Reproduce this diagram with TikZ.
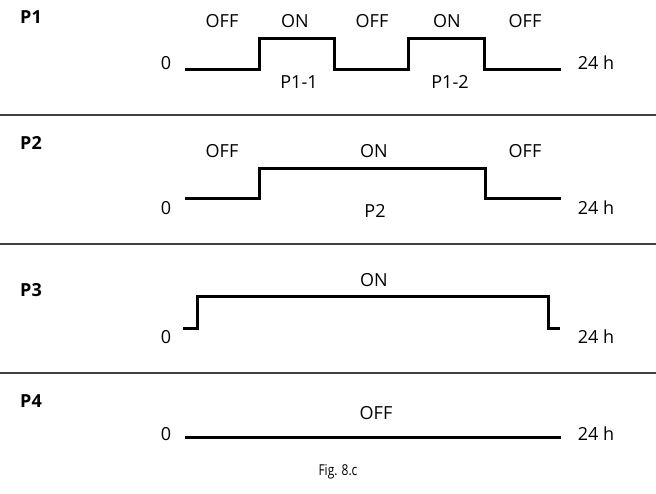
\documentclass[tikz,border=0pt]{standalone}
\usepackage{fontspec}
\setmainfont{Open Sans}
\begin{document}
\begin{tikzpicture}[x=1pt,y=-1pt,
  lbl/.style={font=\fontsize{18}{21}\selectfont,inner sep=0pt},
  plbl/.style={font=\fontsize{18}{21}\selectfont\bfseries,inner sep=0pt},
  wave/.style={line width=3pt,line join=miter},
  divider/.style={line width=1.6pt,draw=black!75}]
\useasboundingbox (0,0) rectangle (656,493);
% P1
\node[plbl] (p1) at (31,17) {P1};
\node[lbl] (p1off1) at (222,21) {OFF};
\node[lbl] (p1on1) at (295,21) {ON};
\node[lbl] (p1off2) at (372,21) {OFF};
\node[lbl] (p1on2) at (447,21) {ON};
\node[lbl] (p1off3) at (525,21) {OFF};
\node[lbl] (p1zero) at (166,63) {0};
\node[lbl] (p1end) at (596,63) {24 h};
\node[lbl] (p11) at (299,82) {P1-1};
\node[lbl] (p12) at (450,82) {P1-2};
\draw[wave] (185,69) -- (259,69) -- (259,38) -- (334,38) -- (334,69) -- (408,69) -- (408,38) -- (484,38) -- (484,69) -- (561,69);
\draw[divider] (0,115) -- (656,115);
% P2
\node[plbl] (p2) at (31,143) {P2};
\node[lbl] (p2off1) at (222,151) {OFF};
\node[lbl] (p2on) at (374,151) {ON};
\node[lbl] (p2off2) at (525,151) {OFF};
\node[lbl] (p2zero) at (166,208) {0};
\node[lbl] (p2end) at (596,208) {24 h};
\node[lbl] (p2n) at (375,211) {P2};
\draw[wave] (185,198) -- (259,198) -- (259,168) -- (485,168) -- (485,198) -- (561,198);
\draw[divider] (0,244) -- (656,244);
% P3
\node[plbl] (p3) at (31,290) {P3};
\node[lbl] (p3on) at (374,280) {ON};
\node[lbl] (p3zero) at (166,337) {0};
\node[lbl] (p3end) at (596,337) {24 h};
\draw[wave] (183,328) -- (197,328) -- (197,296) -- (548,296) -- (548,328) -- (560,328);
\draw[divider] (0,373) -- (656,373);
% P4
\node[plbl] (p4) at (31,401) {P4};
\node[lbl] (p4off) at (376,413) {OFF};
\node[lbl] (p4zero) at (166,434) {0};
\node[lbl] (p4end) at (596,434) {24 h};
\draw[wave] (185,437) -- (561,437);
\node[font=\fontsize{15}{17}\addfontfeature{FakeStretch=0.8}\selectfont,inner sep=0pt] (fig) at (338,472) {Fig. 8.c};
\end{tikzpicture}
\end{document}
